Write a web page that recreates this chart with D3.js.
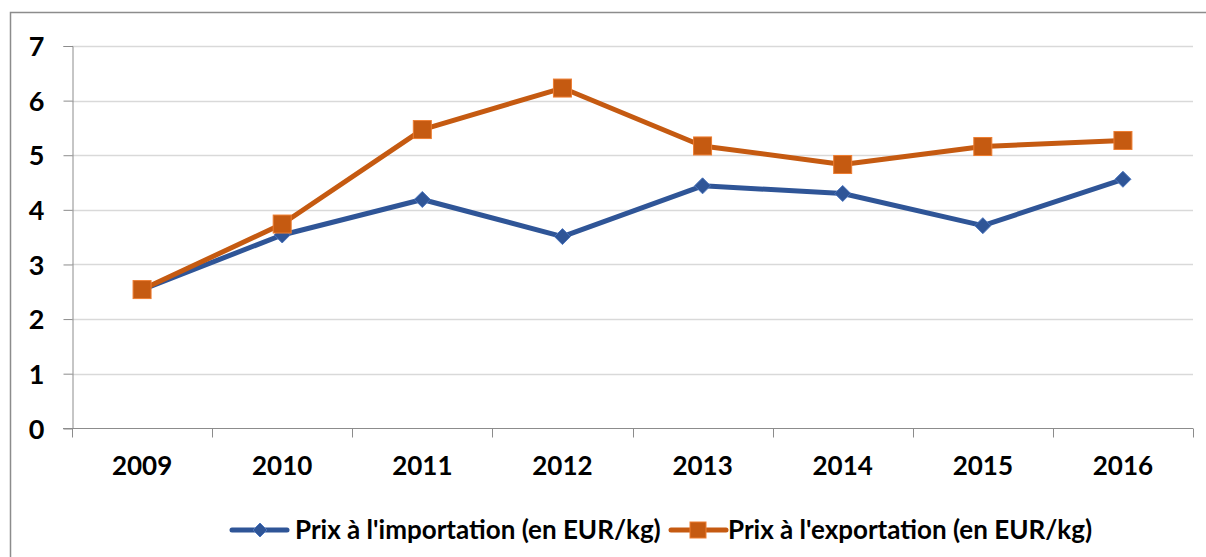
<!DOCTYPE html>
<html>
<head>
<meta charset="utf-8">
<script src="https://cdn.jsdelivr.net/npm/d3@7"></script>
<style>
  body { margin: 0; background: #fff; }
  text { font-family: Lato, "Open Sans", sans-serif; font-weight: bold; fill: #000; }
</style>
</head>
<body>
<script>
(function(){
   var width = 1206;
   var height = 557;

   var years = ["2009", "2010", "2011", "2012", "2013", "2014", "2015", "2016"];
   var importPrices = [2.54, 3.54, 4.19, 3.51, 4.44, 4.30, 3.71, 4.56];
   var exportPrices = [2.54, 3.74, 5.47, 6.23, 5.17, 4.83, 5.16, 5.27];
   var yTicks = [0, 1, 2, 3, 4, 5, 6, 7];
   var seriesNames = ["Prix à l'importation (en EUR/kg)", "Prix à l'exportation (en EUR/kg)"];

   var blue = "#2f5597";
   var orange = "#c55a11";

   var svg = d3.select("body").append("svg")
       .attr("width", width)
       .attr("height", height);

   // chart frame
   svg.append("rect")
       .attr("x", 10.5).attr("y", 12.5)
       .attr("width", 1220).attr("height", 600)
       .attr("fill", "none")
       .attr("stroke", "#8c8c8c")
       .attr("stroke-width", 1.5);

   let x = d3.scaleBand().domain(years).range([72, 1193]);
   let y = d3.scaleLinear().domain([0, 7]).range([428.3, 46]);

   // gridlines
   svg.append("g")
       .selectAll("line")
       .data(yTicks.filter(d => d > 0))
       .join("line")
       .attr("x1", 72).attr("x2", 1193)
       .attr("y1", d => Math.round(y(d)) + 0.5)
       .attr("y2", d => Math.round(y(d)) + 0.5)
       .attr("stroke", "#d9d9d9")
       .attr("stroke-width", 1.5);

   // y axis
   let yAxis = svg.append("g")
       .attr("transform", "translate(72.5,0)")
       .call(d3.axisLeft(y).tickValues(yTicks).tickFormat(d3.format("d")).tickSize(9).tickPadding(19));
   yAxis.select(".domain").attr("stroke", "#8c8c8c");
   yAxis.selectAll(".tick line").attr("stroke", "#8c8c8c");
   yAxis.selectAll(".tick text").style("font-size", "27px").attr("dy", "0.36em");

   // x axis
   let xAxis = svg.append("g")
       .attr("transform", "translate(0," + (Math.round(y(0)) + 0.5) + ")");
   xAxis.append("line")
       .attr("x1", 63).attr("x2", 1193)
       .attr("stroke", "#8c8c8c");
   xAxis.selectAll(".sep")
       .data(years.concat(["end"]))
       .join("line")
       .attr("class", "sep")
       .attr("x1", (d, i) => Math.round(72 + i * x.bandwidth()) + 0.5)
       .attr("x2", (d, i) => Math.round(72 + i * x.bandwidth()) + 0.5)
       .attr("y1", 0).attr("y2", 9)
       .attr("stroke", "#8c8c8c");
   xAxis.selectAll(".lab")
       .data(years)
       .join("text")
       .attr("class", "lab")
       .attr("x", d => x(d) + x.bandwidth() / 2)
       .attr("y", 46)
       .attr("text-anchor", "middle")
       .style("font-size", "26px")
       .text(d => d);

   let linefunc = d3.line()
       .x((d, i) => x(years[i]) + x.bandwidth() / 2)
       .y(d => y(d));

   function diamond(g, cx, cy, s){
       g.append("path")
           .attr("d", "M" + cx + "," + (cy - s) + "L" + (cx + s) + "," + cy + "L" + cx + "," + (cy + s) + "L" + (cx - s) + "," + cy + "Z")
           .attr("fill", blue)
           .attr("stroke", "#4a74bd")
           .attr("stroke-width", 1);
   }
   function square(g, cx, cy, s){
       g.append("rect")
           .attr("x", cx - s).attr("y", cy - s)
           .attr("width", 2 * s).attr("height", 2 * s)
           .attr("fill", orange)
           .attr("stroke", "#ed7d31")
           .attr("stroke-width", 1);
   }

   // import series
   let gi = svg.append("g");
   gi.append("path")
       .attr("d", linefunc(importPrices))
       .attr("stroke", blue)
       .attr("stroke-width", 5)
       .attr("stroke-linejoin", "round")
       .attr("fill", "none");
   importPrices.forEach((v, i) => diamond(gi, x(years[i]) + x.bandwidth() / 2, y(v), 8));

   // export series
   let ge = svg.append("g");
   ge.append("path")
       .attr("d", linefunc(exportPrices))
       .attr("stroke", orange)
       .attr("stroke-width", 5)
       .attr("stroke-linejoin", "round")
       .attr("fill", "none");
   exportPrices.forEach((v, i) => square(ge, x(years[i]) + x.bandwidth() / 2, y(v), 9));

   // legend
   let legend = svg.append("g");
   let lx = [232, 671];
   let tx = [295, 728];
   [blue, orange].forEach((c, i) => {
       legend.append("line")
           .attr("x1", lx[i]).attr("x2", lx[i] + 55)
           .attr("y1", 530).attr("y2", 530)
           .attr("stroke", c)
           .attr("stroke-width", 5)
           .attr("stroke-linecap", "round");
       if (i === 0) diamond(legend, lx[i] + 28, 530, 7);
       else square(legend, lx[i] + 27, 530, 8);
       legend.append("text")
           .attr("x", tx[i])
           .attr("y", 539)
           .style("font-size", "26px")
           .text(seriesNames[i]);
   });
})();
</script>
</body>
</html>
